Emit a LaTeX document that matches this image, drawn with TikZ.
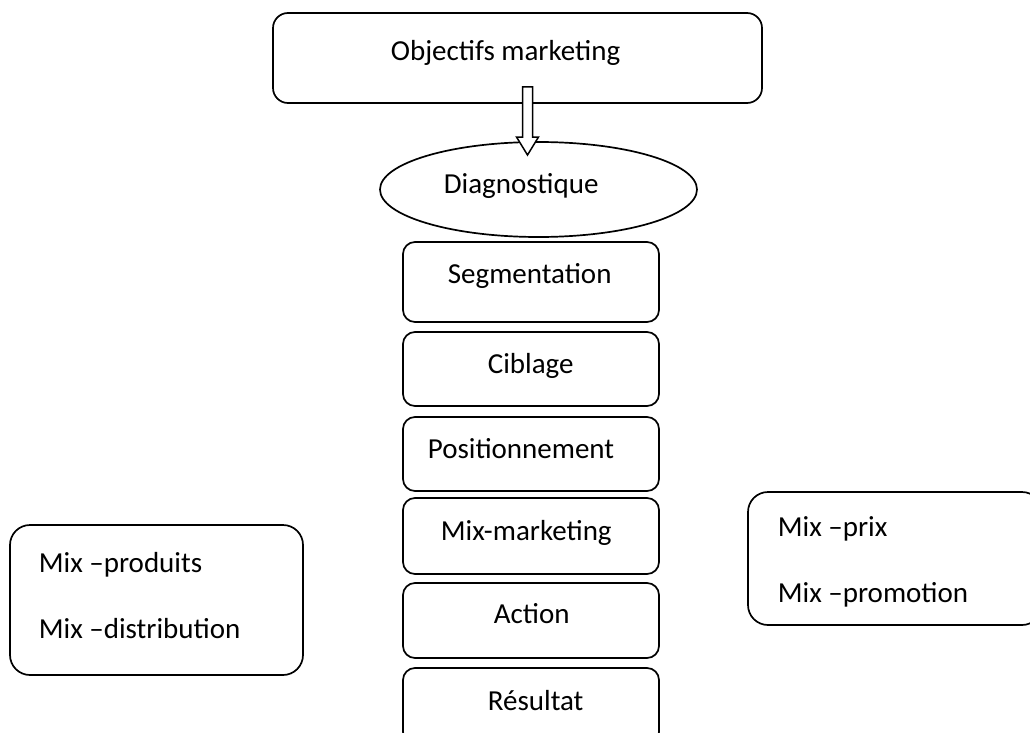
\documentclass[tikz,border=0pt]{standalone}
\usepackage{fontspec}
\setmainfont{Carlito}
\usetikzlibrary{shapes.geometric,calc}
\begin{document}
\begin{tikzpicture}[x=1pt,y=-1pt,
  line width=1.7pt,
  box/.style={draw,rounded corners=12pt,minimum width=256pt,inner sep=0pt},
  bigbox/.style={draw,rounded corners=20pt,inner sep=0pt},
  lbl/.style={anchor=base west,inner sep=0pt,font=\fontsize{29}{35}\selectfont},
  blockarrow/.style={draw,fill=white,line width=1.5pt,line join=miter}
]
\useasboundingbox (0,0) rectangle (1030,733);
\clip (0,0) rectangle (1030,733);
\fill[white] (0,0) rectangle (1030,733);

% top box and ellipse
\node[draw,rounded corners=15pt,minimum width=489pt,minimum height=90pt,inner sep=0pt] (obj) at (517.5,58) {};
\node[lbl] (tobj) at (390,61) {Objectifs marketing};
\node[draw,ellipse,minimum width=317pt,minimum height=95pt,inner sep=0pt] (diag) at (538.5,189.5) {};
\node[lbl] (tdiag) at (443,193) {Diagnostique};

% central column
\node[box,minimum height=80pt] (seg) at (531,282) {};
\node[lbl] (tseg) at (447,283) {Segmentation};
\node[box,minimum height=74pt] (cib) at (531,369) {};
\node[lbl] (tcib) at (487,373) {Ciblage};
\node[box,minimum height=74pt] (pos) at (531,454) {};
\node[lbl] (tpos) at (427,458) {Positionnement};
\node[box,minimum height=76pt] (mixm) at (531,536) {};
\node[lbl] (tmixm) at (440,540) {Mix-marketing};
\node[box,minimum height=75pt] (act) at (531,620.5) {};
\node[lbl] (tact) at (493,623) {Action};
\node[box,minimum height=76pt] (res) at (531,706) {};
\node[lbl] (tres) at (487,710) {Résultat};

% side boxes
\node[bigbox,minimum width=293pt,minimum height=150pt] (left) at (156.5,600) {};
\node[lbl] (tl1) at (38,572) {Mix –produits};
\node[lbl] (tl2) at (38,638) {Mix –distribution};
\node[bigbox,minimum width=294pt,minimum height=133pt] (right) at (895,558.5) {};
\node[lbl] (tr1) at (777,536) {Mix –prix};
\node[lbl] (tr2) at (777,602) {Mix –promotion};

% hollow block arrow from objectives box to the ellipse
\coordinate (atop) at (527.5,87);
\draw[blockarrow] (atop) ++(-5,0) -- ++(0,50) -- ++(-6,0) -- ++(11,18) -- ++(11,-18) -- ++(-6,0) -- ++(0,-50) -- cycle;
\end{tikzpicture}
\end{document}
